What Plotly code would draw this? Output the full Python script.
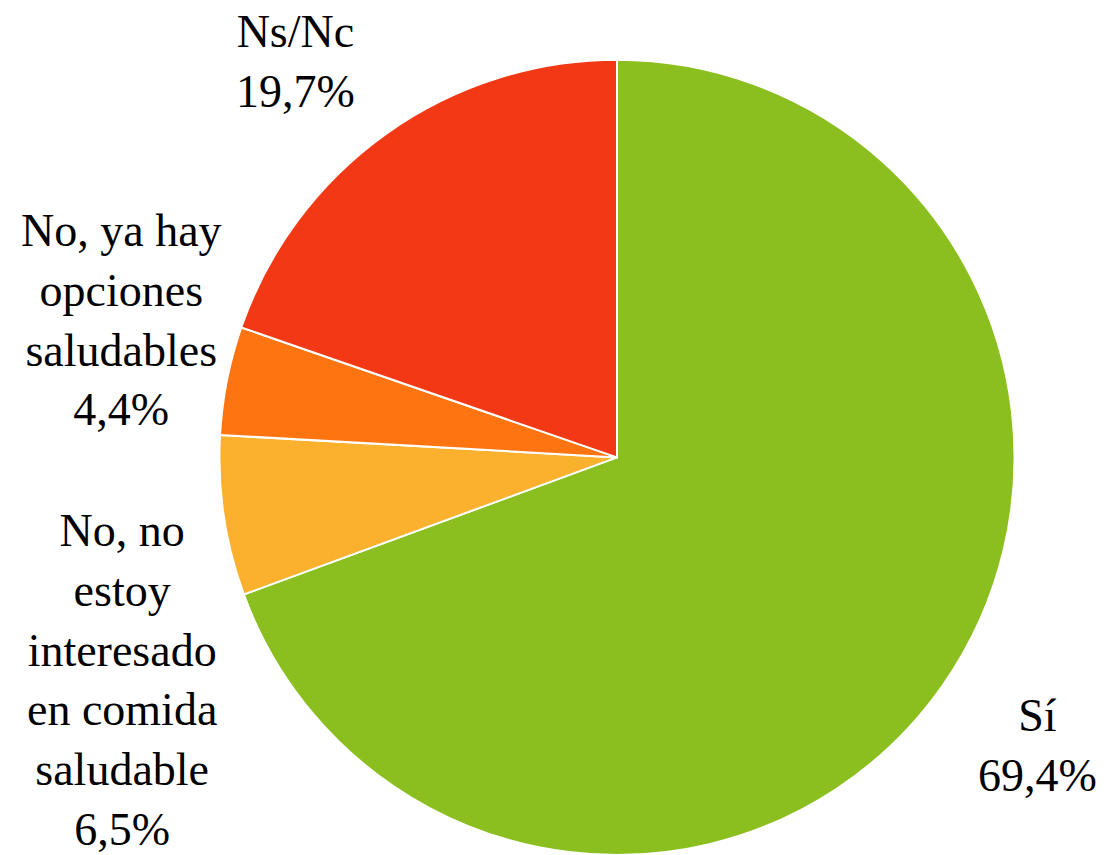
import plotly.graph_objects as go

categories = ["Sí", "No, no estoy interesado en comida saludable", "No, ya hay opciones saludables", "Ns/Nc"]
values = [69.4, 6.5, 4.4, 19.7]
label_lines = ["Sí", "No, no<br>estoy<br>interesado<br>en comida<br>saludable", "No, ya hay<br>opciones<br>saludables", "Ns/Nc"]
colors = ["#8BBF1F", "#FBB02E", "#FE7411", "#F23814"]

# label block centres (paper coords)
label_pos = [(0.937, 0.128), (0.110, 0.205), (0.110, 0.626), (0.267, 0.928)]

W, H = 1107, 855
cx, r = 617, 399

fig = go.Figure(go.Pie(
    labels=categories,
    values=values,
    sort=False,
    direction="clockwise",
    rotation=0,
    marker=dict(colors=colors, line=dict(color="white", width=2)),
    textinfo="none",
    hoverinfo="label+percent",
    domain=dict(x=[(cx - r) / W, (cx + r) / W], y=[0, 0.93]),
    showlegend=False,
))

for lab, v, (x, y) in zip(label_lines, values, label_pos):
    txt = f"{lab}<br>{v:.1f}%".replace(".", ",")
    fig.add_annotation(
        x=x, y=y, xref="paper", yref="paper",
        text=txt, showarrow=False, xanchor="center", yanchor="middle",
        align="center",
        font=dict(family="Liberation Serif", size=46, color="black"),
    )

fig.update_layout(
    width=W, height=H,
    margin=dict(l=0, r=0, t=0, b=0),
    paper_bgcolor="white",
    plot_bgcolor="white",
)

fig.write_html("out.html", config={"displayModeBar": False},
               post_script="document.body.style.margin='0';")
